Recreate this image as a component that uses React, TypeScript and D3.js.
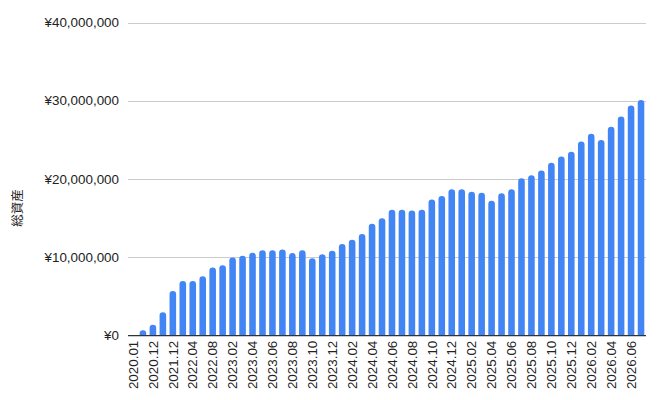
import * as d3 from 'd3';
import React, { useEffect, useRef } from 'react';

const months: string[] = [
  '2020.01', '2020.06', '2020.12', '2021.06', '2021.12', '2022.02', '2022.04', '2022.06', '2022.08', '2022.12',
  '2023.02', '2023.03', '2023.04', '2023.05', '2023.06', '2023.07', '2023.08', '2023.09', '2023.10', '2023.11',
  '2023.12', '2024.01', '2024.02', '2024.03', '2024.04', '2024.05', '2024.06', '2024.07', '2024.08', '2024.09',
  '2024.10', '2024.11', '2024.12', '2025.01', '2025.02', '2025.03', '2025.04', '2025.05', '2025.06', '2025.07',
  '2025.08', '2025.09', '2025.10', '2025.11', '2025.12', '2026.01', '2026.02', '2026.03', '2026.04', '2026.05',
  '2026.06', '2026.07',
];

// 総資産 (円)
const totals: number[] = [
  0, 700000, 1400000, 3000000, 5700000, 7000000, 7000000, 7600000, 8700000, 9000000,
  10000000, 10200000, 10600000, 10900000, 10900000, 11000000, 10550000, 10900000, 9900000, 10400000,
  10850000, 11700000, 12250000, 13000000, 14300000, 15000000, 16100000, 16100000, 16000000, 16100000,
  17400000, 17850000, 18700000, 18700000, 18400000, 18250000, 17250000, 18200000, 18700000, 20100000,
  20500000, 21100000, 22100000, 22900000, 23500000, 24800000, 25800000, 25000000, 26700000, 28000000,
  29400000, 30100000,
];

const yTicks: number[] = [0, 10000000, 20000000, 30000000, 40000000];

const W = 658;
const H = 400;
const margin = { left: 128, right: 12, top: 22.5, bottom: 64.3 };
const font = 'Arial, "Liberation Sans", "Noto Sans CJK JP", sans-serif';

const App: React.FC = () => {
  const ref = useRef<SVGSVGElement>(null);

  useEffect(() => {
    if (!ref.current) return;
    const svg = d3.select(ref.current);
    svg.selectAll('*').remove();

    const x = d3
      .scaleBand<string>()
      .domain(months)
      .range([margin.left, W - margin.right])
      .paddingInner(0.34)
      .paddingOuter(0.17);
    const y = d3
      .scaleLinear()
      .domain([0, 40000000])
      .range([H - margin.bottom, margin.top]);

    // grid
    svg
      .append('g')
      .selectAll('line')
      .data(yTicks.filter((t) => t > 0))
      .join('line')
      .attr('x1', margin.left)
      .attr('x2', W - margin.right)
      .attr('y1', (d) => Math.round(y(d)) + 0.5)
      .attr('y2', (d) => Math.round(y(d)) + 0.5)
      .attr('stroke', '#cccccc')
      .attr('stroke-width', 1);

    // y labels
    svg
      .append('g')
      .selectAll('text')
      .data(yTicks)
      .join('text')
      .attr('x', 119)
      .attr('y', (d) => y(d))
      .attr('dy', '0.35em')
      .attr('text-anchor', 'end')
      .attr('font-family', font)
      .attr('font-size', 13.4)
      .attr('fill', '#222')
      .text((d) => '¥' + d3.format(',')(d));

    // bars with rounded tops
    const bw = x.bandwidth();
    const r = bw / 2;
    svg
      .append('g')
      .selectAll('path')
      .data(totals.map((v, i) => ({ m: months[i], v })).filter((d) => d.v > 0))
      .join('path')
      .attr('fill', '#4285f4')
      .attr('d', (d) => {
        const x0 = x(d.m)!;
        const y0 = y(0);
        const y1 = y(d.v);
        const rr = Math.min(r, (y0 - y1));
        return `M${x0},${y0}V${y1 + rr}A${r},${rr} 0 0 1 ${x0 + bw},${y1 + rr}V${y0}Z`;
      });

    // baseline
    svg
      .append('line')
      .attr('x1', margin.left)
      .attr('x2', W - margin.right)
      .attr('y1', y(0))
      .attr('y2', y(0))
      .attr('stroke', '#333')
      .attr('stroke-width', 1.3);

    // x labels, every other month
    svg
      .append('g')
      .selectAll('text')
      .data(months.filter((_, i) => i % 2 === 0))
      .join('text')
      .attr('transform', (d) => `translate(${x(d)! + bw / 2},${y(0) + 5}) rotate(-90)`)
      .attr('dy', '0.35em')
      .attr('text-anchor', 'end')
      .attr('font-family', font)
      .attr('font-size', 13.4)
      .attr('fill', '#222')
      .text((d) => d);

    // axis title
    svg
      .append('text')
      .attr('transform', `translate(18,${(y(0) + y(40000000)) / 2 + 29}) rotate(-90)`)
      .attr('dy', '0.35em')
      .attr('text-anchor', 'middle')
      .attr('font-family', '"Noto Sans CJK JP", sans-serif')
      .attr('font-size', 12.5)
      .attr('fill', '#222')
      .text('総資産');
  }, []);

  return (
    <svg
      ref={ref}
      width={W}
      height={H}
      viewBox={`0 0 ${W} ${H}`}
      style={{ position: 'absolute', left: 0, top: 0, background: '#fff' }}
    />
  );
};

export default App;
